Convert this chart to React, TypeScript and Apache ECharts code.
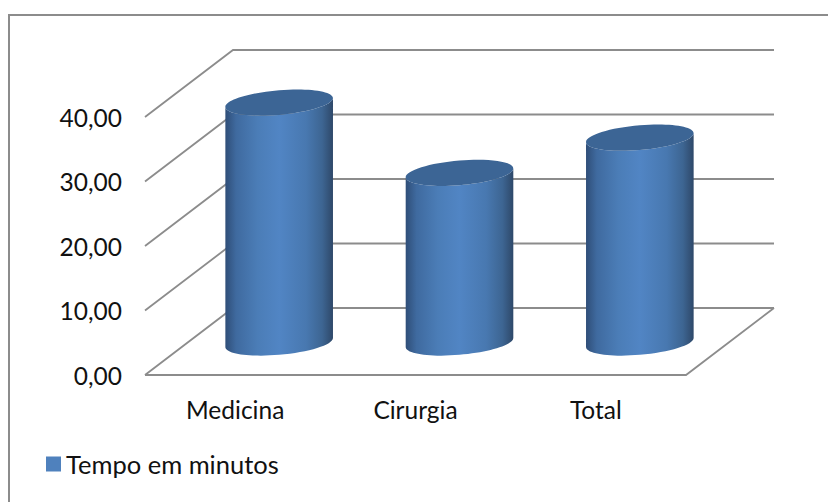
import React, { useEffect, useRef } from "react";
import * as echarts from "echarts";

const categories = ["Medicina", "Cirurgia", "Total"];
const minutes = [37.2, 26.3, 31.75];
const gridTicks = [0, 10, 20, 30, 40];

const FONT = "Lato";
const INK = "#111111";
const LINE = "#8c8c8c";
const DEPTH_X = 88;
const DEPTH_Y = 67;
const CYLINDER_LIFT = 32.5;
const RX = 54;
const RY = 12.3;
const TILT = (-5 * Math.PI) / 180;
const KAPPA = 0.5522847;

// Point on the tilted ellipse at angle t, and its derivative.
const ellipseAt = (t: number) => [
  RX * Math.cos(t) * Math.cos(TILT) - RY * Math.sin(t) * Math.sin(TILT),
  RX * Math.cos(t) * Math.sin(TILT) + RY * Math.sin(t) * Math.cos(TILT),
];
const ellipseTangent = (t: number) => [
  -RX * Math.sin(t) * Math.cos(TILT) - RY * Math.cos(t) * Math.sin(TILT),
  -RX * Math.sin(t) * Math.sin(TILT) + RY * Math.cos(t) * Math.cos(TILT),
];

// Angle of the rightmost point, where the cylinder's sides touch the ellipse.
const T_RIGHT = Math.atan2(-RY * Math.sin(TILT), RX * Math.cos(TILT));

// Cubic segments along the ellipse from angle a through a quarter turn per step.
function ellipseArc(cx: number, cy: number, a: number, steps: number, dir: number) {
  let d = "";
  for (let i = 0; i < steps; i++) {
    const t0 = a + (dir * i * Math.PI) / 2;
    const t1 = t0 + (dir * Math.PI) / 2;
    const p0 = ellipseAt(t0);
    const p1 = ellipseAt(t1);
    const d0 = ellipseTangent(t0);
    const d1 = ellipseTangent(t1);
    d +=
      `C${cx + p0[0] + dir * KAPPA * d0[0]} ${cy + p0[1] + dir * KAPPA * d0[1]} ` +
      `${cx + p1[0] - dir * KAPPA * d1[0]} ${cy + p1[1] - dir * KAPPA * d1[1]} ` +
      `${cx + p1[0]} ${cy + p1[1]}`;
  }
  return d;
}

function renderWall(params: any, api: any) {
  const y = api.coord([0, api.value(1)])[1];
  const cs = params.coordSys;
  const x1 = cs.x + cs.width;
  const style = { fill: null, stroke: LINE, lineWidth: 1.8 };
  const children: any[] = [
    {
      type: "polyline",
      shape: { points: [[cs.x, y], [cs.x + DEPTH_X, y - DEPTH_Y], [x1 + DEPTH_X, y - DEPTH_Y]] },
      style,
    },
  ];
  if (api.value(1) === 0) {
    children.push({
      type: "polyline",
      shape: { points: [[cs.x, y], [x1, y], [x1 + DEPTH_X, y - DEPTH_Y]] },
      style,
    });
  }
  return { type: "group", children, silent: true };
}

function renderCylinder(_: any, api: any) {
  const [tx, ty] = api.coord([api.value(0), api.value(1)]);
  const by = api.coord([api.value(0), 0])[1];
  const cx = tx + DEPTH_X / 2;
  const top = ty - CYLINDER_LIFT;
  const base = by - CYLINDER_LIFT;
  const right = ellipseAt(T_RIGHT);
  const leftX = cx - right[0];
  const rightX = cx + right[0];
  const sideD =
    `M${leftX} ${top - right[1]}L${leftX} ${base - right[1]}` +
    ellipseArc(cx, base, T_RIGHT + Math.PI, 2, -1) +
    `L${rightX} ${top + right[1]}` +
    ellipseArc(cx, top, T_RIGHT, 2, 1) +
    "Z";
  const capD =
    `M${rightX} ${top + right[1]}` + ellipseArc(cx, top, T_RIGHT, 4, 1) + "Z";
  return {
    type: "group",
    children: [
      {
        type: "path",
        shape: { pathData: sideD },
        style: {
          fill: new echarts.graphic.LinearGradient(0, 0, 1, 0, [
            { offset: 0, color: "#2f4e78" },
            { offset: 0.1, color: "#3f6a9f" },
            { offset: 0.3, color: "#4b7db7" },
            { offset: 0.5, color: "#5185c4" },
            { offset: 0.75, color: "#4878b0" },
            { offset: 0.9, color: "#3d6592" },
            { offset: 1, color: "#2e4869" },
          ]),
        },
      },
      { type: "path", shape: { pathData: capD }, style: { fill: "#3c6595" } },
    ],
  };
}

export default function App() {
  const ref = useRef<HTMLDivElement>(null);
  useEffect(() => {
    const chart = echarts.init(ref.current!, null, { renderer: "svg" });
    chart.setOption({
      animation: false,
      backgroundColor: "#ffffff",
      graphic: [
        {
          type: "rect",
          shape: { x: 9, y: 15, width: 830, height: 500 },
          style: { fill: null, stroke: LINE, lineWidth: 2 },
          z: 0,
          silent: true,
        },
      ],
      grid: { left: 145, right: 142, top: 117, bottom: 127 },
      legend: {
        data: ["Tempo em minutos"],
        left: 46,
        top: 451,
        icon: "rect",
        itemWidth: 15,
        itemHeight: 15,
        itemGap: 6,
        padding: 0,
        textStyle: { fontFamily: FONT, fontSize: 25.5, color: INK },
      },
      xAxis: {
        type: "category",
        data: categories,
        axisLine: { show: false },
        axisTick: { show: false },
        axisLabel: { fontFamily: FONT, fontSize: 24.5, color: INK, margin: 22 },
      },
      yAxis: {
        type: "value",
        min: 0,
        max: 40,
        interval: 10,
        axisLine: { show: false },
        axisTick: { show: false },
        splitLine: { show: false },
        axisLabel: {
          fontFamily: FONT,
          fontSize: 24.5,
          color: INK,
          margin: 23,
          formatter: (v: number) => v.toFixed(2).replace(".", ","),
        },
      },
      series: [
        {
          type: "custom",
          name: "wall",
          renderItem: renderWall,
          data: gridTicks.map((t) => [0, t]),
          silent: true,
          z: 1,
        },
        {
          type: "custom",
          name: "Tempo em minutos",
          renderItem: renderCylinder,
          itemStyle: { color: "#4f81bd" },
          data: minutes.map((m, i) => [i, m]),
          z: 2,
        },
      ],
    });
    return () => chart.dispose();
  }, []);
  return <div ref={ref} style={{ position: "absolute", left: 0, top: 0, width: 828, height: 502 }} />;
}
